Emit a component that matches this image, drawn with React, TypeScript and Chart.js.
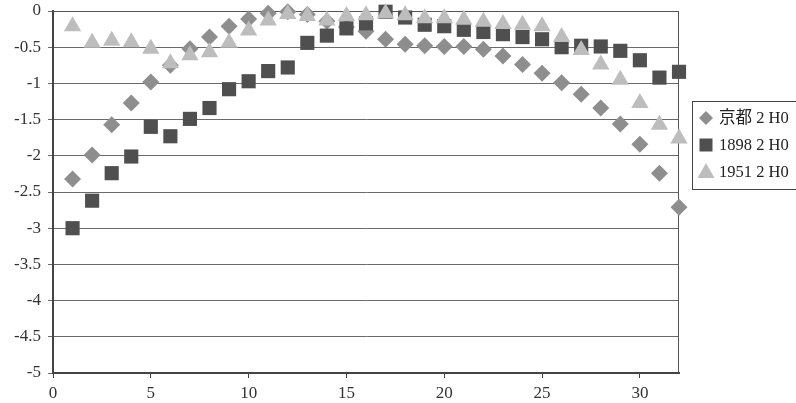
import React, { useEffect, useRef } from "react";
import { Chart, registerables } from "chart.js";

Chart.register(...registerables);

// ---- data ----
const days = [1, 2, 3, 4, 5, 6, 7, 8, 9, 10, 11, 12, 13, 14, 15, 16, 17, 18, 19, 20, 21, 22, 23, 24, 25, 26, 27, 28, 29, 30, 31, 32];
const kyoto = [-2.32, -1.99, -1.57, -1.27, -0.98, -0.75, -0.52, -0.36, -0.21, -0.11, -0.03, -0.01, -0.05, -0.14, -0.22, -0.28, -0.39, -0.46, -0.48, -0.49, -0.49, -0.53, -0.62, -0.74, -0.86, -0.99, -1.15, -1.34, -1.56, -1.84, -2.24, -2.71];
const y1898 = [-3.0, -2.62, -2.24, -2.01, -1.6, -1.73, -1.49, -1.34, -1.08, -0.97, -0.83, -0.78, -0.44, -0.34, -0.24, -0.17, -0.01, -0.09, -0.19, -0.21, -0.26, -0.29, -0.32, -0.36, -0.39, -0.5, -0.48, -0.49, -0.55, -0.68, -0.92, -0.84];
const y1951 = [-0.21, -0.44, -0.41, -0.43, -0.52, -0.72, -0.61, -0.57, -0.44, -0.27, -0.13, -0.04, -0.07, -0.13, -0.07, -0.06, -0.03, -0.06, -0.1, -0.1, -0.12, -0.15, -0.18, -0.19, -0.21, -0.36, -0.54, -0.74, -0.95, -1.27, -1.57, -1.76];
const seriesLabels = ["京都 2 H0", "1898 2 H0", "1951 2 H0"];
const xTickValues = [0, 5, 10, 15, 20, 25, 30];
const xMin = 0;
const xMax = 32;
const yMin = -5;
const yMax = 0;
const yStep = 0.5;

const FONT = "'Liberation Serif', 'DejaVu Serif', 'Noto Sans CJK JP', serif";
const COLORS = ["#8e8e8e", "#4f4f4f", "#bdbdbd"];
const STYLES = ["rectRot", "rect", "triangle"];

function drawMarker(ctx: CanvasRenderingContext2D, style: string, cx: number, cy: number, color: string) {
  ctx.fillStyle = color;
  ctx.beginPath();
  if (style === "rectRot") {
    const r = 7;
    ctx.moveTo(cx, cy - r);
    ctx.lineTo(cx + r, cy);
    ctx.lineTo(cx, cy + r);
    ctx.lineTo(cx - r, cy);
  } else if (style === "rect") {
    const h = 6.5;
    ctx.rect(cx - h, cy - h, 2 * h, 2 * h);
  } else {
    const w = 8.5;
    ctx.moveTo(cx, cy - 9);
    ctx.lineTo(cx + w, cy + 6);
    ctx.lineTo(cx - w, cy + 6);
  }
  ctx.closePath();
  ctx.fill();
}

const framePlugin = {
  id: "frame",
  beforeDatasetsDraw(chart: any) {
    const { ctx, chartArea } = chart;
    ctx.save();
    ctx.strokeStyle = "#555";
    ctx.lineWidth = 1;
    ctx.beginPath();
    ctx.moveTo(chartArea.left, Math.round(chartArea.top) + 0.5);
    ctx.lineTo(chartArea.right, Math.round(chartArea.top) + 0.5);
    ctx.moveTo(Math.round(chartArea.right) - 0.5, chartArea.top);
    ctx.lineTo(Math.round(chartArea.right) - 0.5, chartArea.bottom);
    ctx.stroke();
    ctx.restore();
  },
};

const legendPlugin = {
  id: "boxLegend",
  afterDraw(chart: any) {
    const ctx: CanvasRenderingContext2D = chart.ctx;
    ctx.save();
    ctx.fillStyle = "#fff";
    ctx.fillRect(692.5, 101.5, 120, 88);
    ctx.strokeStyle = "#444";
    ctx.lineWidth = 1;
    ctx.strokeRect(692.5, 101.5, 120, 88);
    seriesLabels.forEach((label, i) => {
      const cy = 118 + i * 27;
      drawMarker(ctx, STYLES[i], 706, cy, COLORS[i]);
      ctx.fillStyle = "#222";
      ctx.font = `16.5px ${FONT}`;
      ctx.textBaseline = "middle";
      ctx.textAlign = "left";
      ctx.fillText(label, 719, cy + 1);
    });
    ctx.restore();
  },
};

export default function App() {
  const canvasRef = useRef<HTMLCanvasElement | null>(null);

  useEffect(() => {
    const canvas = canvasRef.current;
    if (!canvas) return;
    const series = [kyoto, y1898, y1951];
    const radii = [8.5, 10, 10];
    const chart = new Chart(canvas, {
      type: "scatter",
      data: {
        datasets: series.map((vals, i) => ({
          label: seriesLabels[i],
          data: days.map((d, j) => ({ x: d, y: vals[j] })),
          pointStyle: STYLES[i] as any,
          pointRadius: radii[i],
          pointHoverRadius: radii[i],
          backgroundColor: COLORS[i],
          borderColor: COLORS[i],
          borderWidth: 0,
          showLine: false,
          clip: false as any,
          order: 3 - i,
        })),
      },
      options: {
        responsive: false,
        animation: false,
        events: [],
        layout: { padding: { top: 11, right: 117, left: 0, bottom: 0 } },
        plugins: {
          legend: { display: false },
          tooltip: { enabled: false },
          title: { display: false },
        },
        scales: {
          x: {
            type: "linear",
            min: xMin,
            max: xMax,
            afterBuildTicks: (scale: any) => {
              scale.ticks = xTickValues.map((v) => ({ value: v }));
            },
            afterFit: (scale: any) => {
              scale.height = 30;
              scale.paddingLeft = 0;
              scale.paddingRight = 0;
            },
            ticks: {
              color: "#333",
              font: { family: FONT, size: 17 },
              padding: 5,
              maxRotation: 0,
              callback: (v: any) => String(v),
            },
            grid: {
              drawOnChartArea: false,
              drawTicks: true,
              tickLength: 5,
              color: "#444",
            },
            border: { display: true, color: "#444", width: 2 },
          },
          y: {
            type: "linear",
            min: yMin,
            max: yMax,
            afterFit: (scale: any) => {
              scale.width = 53;
              scale.paddingTop = 0;
              scale.paddingBottom = 0;
            },
            ticks: {
              stepSize: yStep,
              color: "#333",
              font: { family: FONT, size: 17 },
              padding: 7,
              callback: (v: any) => String(Math.round(Number(v) * 10) / 10),
            },
            grid: {
              drawOnChartArea: true,
              drawTicks: true,
              tickLength: 5,
              color: "#6a6a6a",
              lineWidth: 1,
            },
            border: { display: true, color: "#444", width: 2 },
          },
        },
      },
      plugins: [framePlugin, legendPlugin],
    });
    return () => chart.destroy();
  }, []);

  return (
    <div style={{ position: "fixed", left: 0, top: 0, width: 796, height: 403, background: "#fff" }}>
      <canvas ref={canvasRef} width={796} height={403} style={{ display: "block" }} />
    </div>
  );
}
